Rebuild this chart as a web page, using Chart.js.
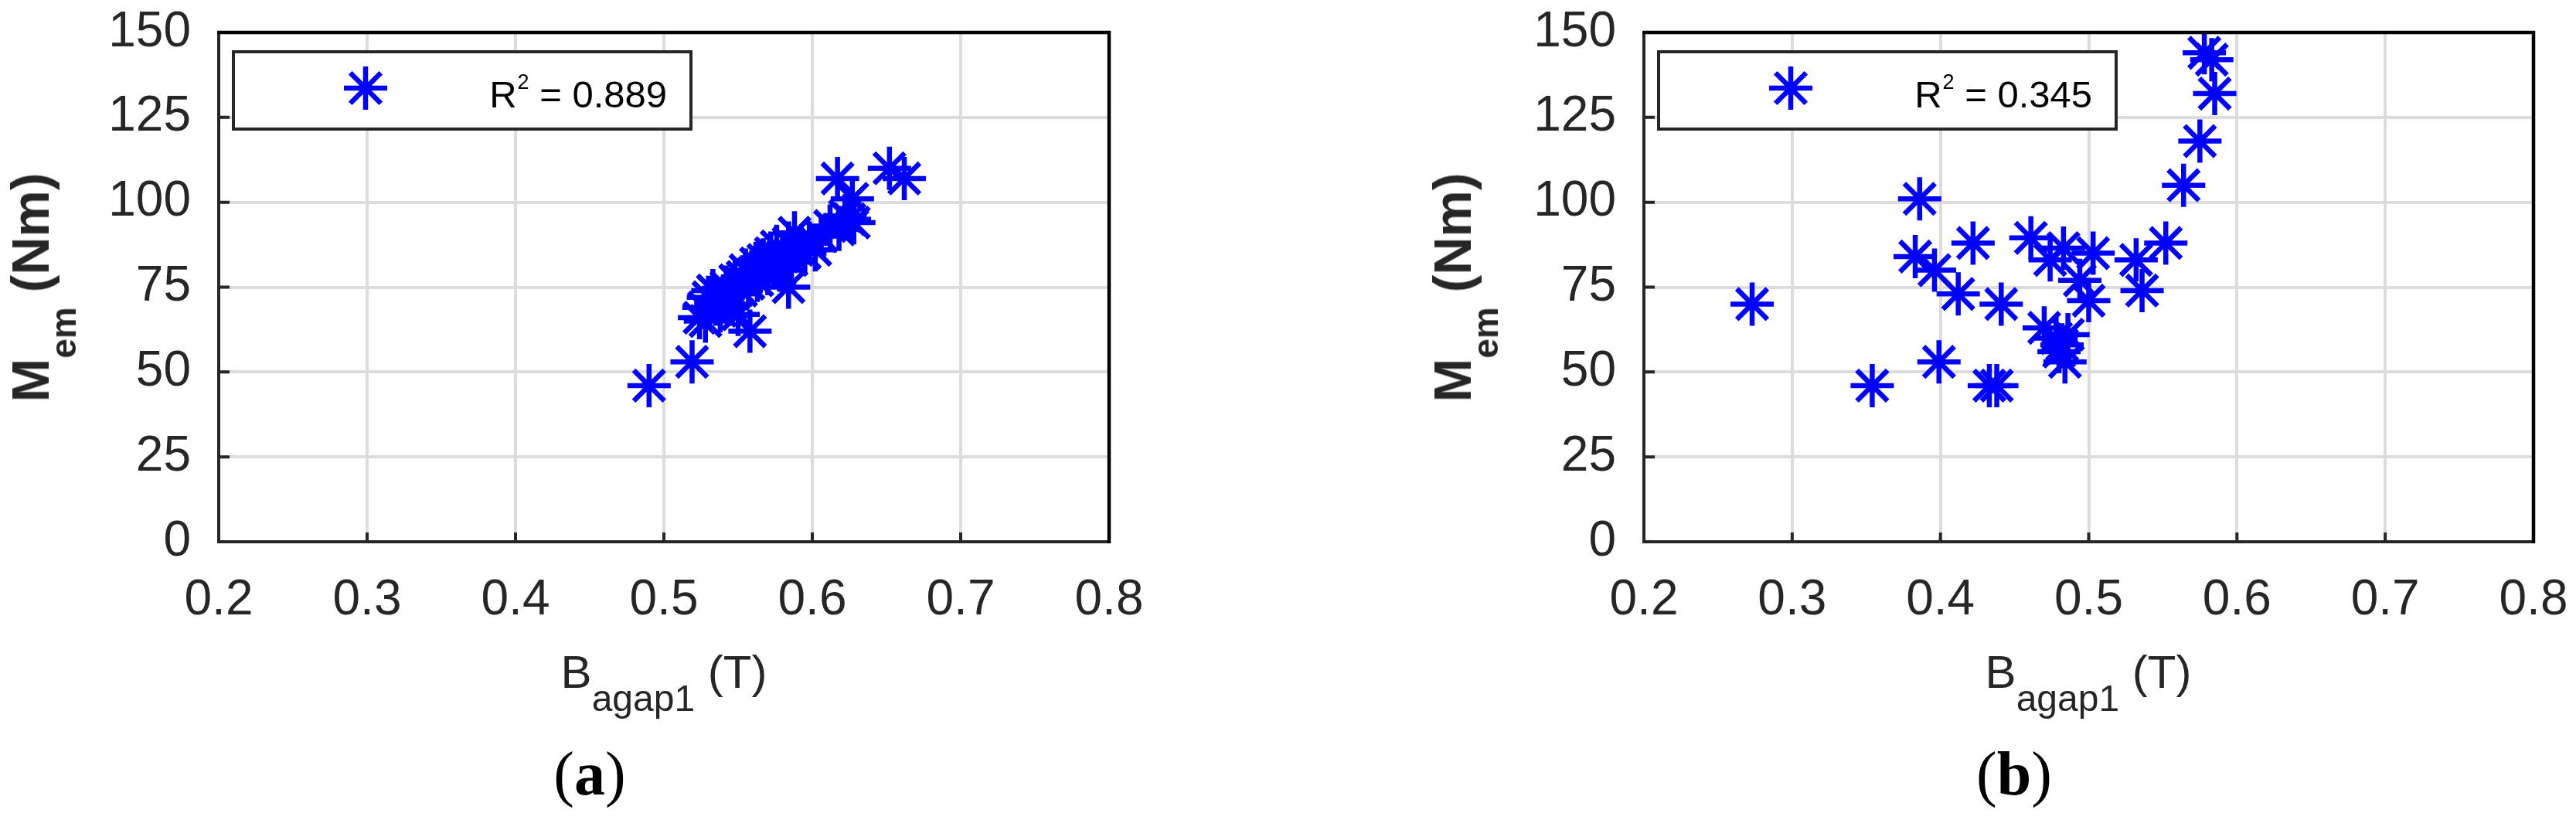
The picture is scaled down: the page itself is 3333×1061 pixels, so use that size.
<!DOCTYPE html>
<html>
<head>
<meta charset="utf-8">
<script src="https://cdn.jsdelivr.net/npm/chart.js@4.4.1/dist/chart.umd.min.js"></script>
<style>
  html, body { margin:0; padding:0; background:#fff; }
  body { width:3333px; height:1061px; position:relative; overflow:hidden; }
  .wrap { position:absolute; top:0; height:1061px; }
  canvas { display:block; }
  .xt { position:absolute; transform:translateX(-50%); font-family:"Liberation Sans", Arial, sans-serif; font-size:60px; line-height:60px; white-space:nowrap; color:#262626; }
  .xt .sub { font-size:48px; position:relative; top:30px; }
  .yt { position:absolute; transform:translate(-50%,-50%) rotate(-90deg); font-family:"Liberation Sans", Arial, sans-serif; font-weight:bold; font-size:68px; line-height:68px; white-space:nowrap; color:#262626; }
  .yt .sub { font-size:46px; position:relative; top:35px; }
  .pl { position:absolute; transform:translateX(-50%); font-family:"Liberation Serif", "Times New Roman", serif; font-size:80px; line-height:80px; white-space:nowrap; color:#000; }
  .pl b { font-weight:bold; }
</style>
</head>
<body>
<div class="wrap" style="left:0;width:1666px"><canvas id="cA" width="1666" height="1061" style="width:1666px;height:1061px"></canvas></div>
<div class="wrap" style="left:1666px;width:1667px"><canvas id="cB" width="1667" height="1061" style="width:1667px;height:1061px"></canvas></div>

<div class="xt" style="left:859px;top:840px">B<span class="sub">agap1</span> (T)</div>
<div class="xt" style="left:2702px;top:840px">B<span class="sub">agap1</span> (T)</div>
<div class="yt" style="left:43px;top:372px">M<span class="sub">em</span> (Nm)</div>
<div class="yt" style="left:1883px;top:372px">M<span class="sub">em</span> (Nm)</div>
<div class="pl" style="left:763px;top:961px">(<b>a</b>)</div>
<div class="pl" style="left:2606px;top:961px">(<b>b</b>)</div>

<script>
// ---- data ----
const xTicks = [0.2, 0.3, 0.4, 0.5, 0.6, 0.7, 0.8];
const xTickLabels = ['0.2', '0.3', '0.4', '0.5', '0.6', '0.7', '0.8'];
const yTicks = [0, 25, 50, 75, 100, 125, 150];
const yTickLabels = ['0', '25', '50', '75', '100', '125', '150'];

// panel (a)
const bagapA = [0.490, 0.519, 0.558, 0.524, 0.527, 0.530, 0.533, 0.528, 0.535, 0.538,
                0.540, 0.542, 0.545, 0.547, 0.548, 0.550, 0.552, 0.553, 0.555, 0.557,
                0.560, 0.562, 0.563, 0.565, 0.567, 0.570, 0.572, 0.574, 0.576, 0.578,
                0.580, 0.584, 0.584, 0.586, 0.588, 0.590, 0.595, 0.598, 0.602, 0.606,
                0.612, 0.617, 0.618, 0.622, 0.625, 0.627, 0.628, 0.652, 0.662];
const memA   = [46, 53, 62, 66, 69, 72, 74, 65, 70, 68,
                72, 75, 70, 73, 77, 67, 74, 78, 80, 76,
                79, 82, 77, 80, 83, 79, 85, 81, 87, 80,
                84, 75, 88, 83, 91, 86, 85, 88, 86, 90,
                93, 107, 92, 96, 95, 101, 94, 110, 107];
const r2A = '0.889';

// panel (b)
const bagapB = [0.273, 0.354, 0.383, 0.386, 0.396, 0.399, 0.412, 0.422, 0.433, 0.438,
                0.441, 0.461, 0.470, 0.474, 0.478, 0.480, 0.482, 0.483, 0.484, 0.486,
                0.494, 0.500, 0.503, 0.532, 0.536, 0.552, 0.564, 0.575, 0.578, 0.583,
                0.585];
const memB   = [70, 46, 84, 101, 80, 53, 73, 88, 46, 46,
                70, 89.5, 63, 83, 60, 56, 58, 86.5, 53, 61,
                77, 71, 85, 83, 74, 88, 105, 118, 144, 142,
                132];
const r2B = '0.345';

// ---- drawing ----
const BLUE = '#0000ff';
const FONT = '"Liberation Sans", Arial, sans-serif';

function drawStar(ctx, cx, cy, r) {
  ctx.beginPath();
  for (let k = 0; k < 4; k++) {
    const a = k * Math.PI / 4;
    ctx.moveTo(cx + Math.cos(a) * r, cy + Math.sin(a) * r);
    ctx.lineTo(cx - Math.cos(a) * r, cy - Math.sin(a) * r);
  }
  ctx.stroke();
}

const framePlugin = {
  id: 'frame',
  afterDatasetsDraw(chart, args, opts) {
    const { ctx, chartArea: a, scales } = chart;
    const x = scales.x, y = scales.y;
    ctx.save();
    // inward tick marks
    ctx.strokeStyle = '#262626';
    ctx.lineWidth = 4;
    ctx.beginPath();
    xTicks.forEach(v => { const px = x.getPixelForValue(v); ctx.moveTo(px, a.bottom); ctx.lineTo(px, a.bottom - 12); });
    yTicks.forEach(v => { const py = y.getPixelForValue(v); ctx.moveTo(a.left, py); ctx.lineTo(a.left + 14, py); });
    ctx.stroke();
    // top & right frame
    ctx.strokeStyle = '#000';
    ctx.lineWidth = 4.5;
    ctx.beginPath();
    ctx.moveTo(a.left - 2, a.top);
    ctx.lineTo(a.right, a.top);
    ctx.lineTo(a.right, a.bottom + 2);
    ctx.stroke();
    // legend box
    const bx = a.left + 19, by = a.top + 25, bw = 592, bh = 100;
    ctx.fillStyle = '#fff';
    ctx.fillRect(bx, by, bw, bh);
    ctx.strokeStyle = '#262626';
    ctx.lineWidth = 4;
    ctx.strokeRect(bx, by, bw, bh);
    // legend marker
    ctx.strokeStyle = BLUE;
    ctx.lineWidth = 6.5;
    drawStar(ctx, bx + 171, by + 47, 28);
    // legend text: R^2 = value
    ctx.fillStyle = '#000';
    ctx.textBaseline = 'alphabetic';
    ctx.textAlign = 'left';
    const main = '49px ' + FONT, sup = '27px ' + FONT;
    const rest = ' = ' + opts.r2;
    ctx.font = main;
    const wR = ctx.measureText('R').width;
    const wRest = ctx.measureText(rest).width;
    ctx.font = sup;
    const w2 = ctx.measureText('2').width;
    const x0 = bx + bw - 32 - (wR + w2 + wRest);
    ctx.font = main;
    ctx.fillText('R', x0, by + 72);
    ctx.font = sup;
    ctx.fillText('2', x0 + wR + 1, by + 48);
    ctx.font = main;
    ctx.fillText(rest, x0 + wR + w2 + 1, by + 72);
    ctx.restore();
  }
};

function makeChart(id, xs, ys, r2, yAxisWidth, padRight) {
  const pts = xs.map((v, i) => ({ x: v, y: ys[i] }));
  return new Chart(document.getElementById(id), {
    type: 'scatter',
    data: {
      datasets: [{
        data: pts,
        pointStyle: 'star',
        pointRadius: 28,
        pointHoverRadius: 28,
        pointBorderWidth: 6.5,
        pointHoverBorderWidth: 6.5,
        borderColor: BLUE,
        backgroundColor: BLUE,
        showLine: false
      }]
    },
    options: {
      responsive: false,
      maintainAspectRatio: false,
      animation: false,
      events: [],
      layout: { padding: { top: 42, right: padRight, left: 0, bottom: 0 } },
      plugins: {
        legend: { display: false },
        tooltip: { enabled: false },
        frame: { r2: r2 }
      },
      scales: {
        x: {
          type: 'linear', min: 0.2, max: 0.8,
          afterBuildTicks: s => { s.ticks = xTicks.map(v => ({ value: v })); },
          afterFit: s => { s.height = 360; s.paddingLeft = 0; s.paddingRight = 0; },
          grid: { color: '#dcdcdc', lineWidth: 4, drawTicks: false },
          border: { color: '#262626', width: 4 },
          ticks: {
            padding: 38, color: '#262626', maxRotation: 0, autoSkip: false,
            font: { family: FONT, size: 64 },
            callback: (v, i) => xTickLabels[i]
          }
        },
        y: {
          type: 'linear', min: 0, max: 150,
          afterBuildTicks: s => { s.ticks = yTicks.map(v => ({ value: v })); },
          afterFit: s => { s.width = yAxisWidth; s.paddingTop = 0; s.paddingBottom = 0; },
          grid: { color: '#dcdcdc', lineWidth: 4, drawTicks: false },
          border: { color: '#262626', width: 4 },
          ticks: {
            padding: 36, color: '#262626', autoSkip: false,
            font: { family: FONT, size: 64 },
            callback: (v, i) => yTickLabels[i]
          }
        }
      }
    },
    plugins: [framePlugin]
  });
}

makeChart('cA', bagapA, memA, r2A, 283, 1666 - 1435);
makeChart('cB', bagapB, memB, r2B, 2127 - 1666, 1667 - (3278 - 1666));
</script>
</body>
</html>
